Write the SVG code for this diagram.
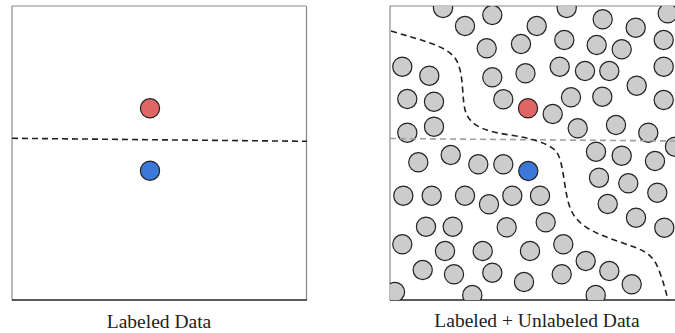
<svg xmlns="http://www.w3.org/2000/svg" width="675" height="333" viewBox="0 0 675 333">
  <style>
    .u { fill: #cccccc; stroke: #222; stroke-width: 1.2; }
    .red { fill: #e06666; stroke: #222; stroke-width: 1.2; }
    .blue { fill: #3c78d8; stroke: #222; stroke-width: 1.2; }
    .bd { stroke: #222; stroke-width: 1.6; stroke-dasharray: 6 4; fill: none; }
    .gd { stroke: #a0a0a0; stroke-width: 1.6; stroke-dasharray: 6 4; fill: none; }
    .lt { stroke: #888; stroke-width: 1.2; }
    .dk { stroke: #222; stroke-width: 1.3; }
    .lbl { font-family: "Liberation Serif", "Times New Roman", serif; font-size: 19.5px; fill: #222; text-anchor: middle; }
  </style>
  <defs>
    <clipPath id="rclip"><rect x="390" y="6" width="290" height="294"/></clipPath>
  </defs>
  <rect width="675" height="333" fill="#fff"/>

  <g id="left-panel">
    <line class="lt" x1="12" y1="6" x2="306" y2="6"/>
    <line class="lt" x1="12" y1="6" x2="12" y2="300"/>
    <line class="lt" x1="306.5" y1="6" x2="306.5" y2="300"/>
    <line class="dk" x1="12" y1="300" x2="307" y2="300"/>
  </g>
  <g id="left-connectors">
    <line class="bd" x1="12" y1="138.3" x2="307" y2="141.3"/>
  </g>
  <g id="left-red"><circle class="red" cx="150" cy="108.3" r="9.6"/></g>
  <g id="left-blue"><circle class="blue" cx="150" cy="170.7" r="9.6"/></g>
  <text class="lbl" x="159" y="328">Labeled Data</text>

  <g id="right-panel">
    <line class="lt" x1="390" y1="6" x2="675" y2="6"/>
    <line class="lt" x1="390" y1="6" x2="390" y2="300"/>
    <line class="dk" x1="390" y1="300" x2="675" y2="300"/>
  </g>
  <g id="right-unlabeled" clip-path="url(#rclip)">
    <circle class="u" cx="443" cy="8" r="9.6"/>
    <circle class="u" cx="492.3" cy="15" r="9.6"/>
    <circle class="u" cx="465" cy="26" r="9.6"/>
    <circle class="u" cx="486.7" cy="48.3" r="9.6"/>
    <circle class="u" cx="521" cy="44" r="9.6"/>
    <circle class="u" cx="402.3" cy="66.7" r="9.6"/>
    <circle class="u" cx="429.3" cy="75.7" r="9.6"/>
    <circle class="u" cx="492.3" cy="77.3" r="9.6"/>
    <circle class="u" cx="525.5" cy="73.3" r="9.6"/>
    <circle class="u" cx="407.3" cy="99" r="9.6"/>
    <circle class="u" cx="434" cy="101.7" r="9.6"/>
    <circle class="u" cx="503.3" cy="99.3" r="9.6"/>
    <circle class="u" cx="407.3" cy="132.7" r="9.6"/>
    <circle class="u" cx="434" cy="126.7" r="9.6"/>
    <circle class="u" cx="566.7" cy="8" r="9.6"/>
    <circle class="u" cx="602.7" cy="19.3" r="9.6"/>
    <circle class="u" cx="536.7" cy="26" r="9.6"/>
    <circle class="u" cx="667.7" cy="13.3" r="9.6"/>
    <circle class="u" cx="635.7" cy="27.7" r="9.6"/>
    <circle class="u" cx="564.3" cy="40" r="9.6"/>
    <circle class="u" cx="596.7" cy="45" r="9.6"/>
    <circle class="u" cx="621.7" cy="49.3" r="9.6"/>
    <circle class="u" cx="663.7" cy="40" r="9.6"/>
    <circle class="u" cx="559.7" cy="66.7" r="9.6"/>
    <circle class="u" cx="585" cy="71" r="9.6"/>
    <circle class="u" cx="609.3" cy="71" r="9.6"/>
    <circle class="u" cx="663.7" cy="66.7" r="9.6"/>
    <circle class="u" cx="636.7" cy="85.7" r="9.6"/>
    <circle class="u" cx="571" cy="97.3" r="9.6"/>
    <circle class="u" cx="602.3" cy="96.7" r="9.6"/>
    <circle class="u" cx="663.7" cy="100" r="9.6"/>
    <circle class="u" cx="552.7" cy="114" r="9.6"/>
    <circle class="u" cx="577.7" cy="128.3" r="9.6"/>
    <circle class="u" cx="616" cy="125" r="9.6"/>
    <circle class="u" cx="648.3" cy="132.7" r="9.6"/>
    <circle class="u" cx="596" cy="151.7" r="9.6"/>
    <circle class="u" cx="621.7" cy="155.7" r="9.6"/>
    <circle class="u" cx="675" cy="146.7" r="9.6"/>
    <circle class="u" cx="655" cy="161" r="9.6"/>
    <circle class="u" cx="418.3" cy="162.3" r="9.6"/>
    <circle class="u" cx="450.7" cy="155" r="9.6"/>
    <circle class="u" cx="478.3" cy="164.3" r="9.6"/>
    <circle class="u" cx="503.3" cy="164.3" r="9.6"/>
    <circle class="u" cx="403.3" cy="195.7" r="9.6"/>
    <circle class="u" cx="431.7" cy="195.7" r="9.6"/>
    <circle class="u" cx="465" cy="195.7" r="9.6"/>
    <circle class="u" cx="489" cy="204.3" r="9.6"/>
    <circle class="u" cx="512.3" cy="195.7" r="9.6"/>
    <circle class="u" cx="426" cy="226.7" r="9.6"/>
    <circle class="u" cx="452.7" cy="226.7" r="9.6"/>
    <circle class="u" cx="506.7" cy="227.3" r="9.6"/>
    <circle class="u" cx="402.3" cy="244.3" r="9.6"/>
    <circle class="u" cx="445" cy="251" r="9.6"/>
    <circle class="u" cx="482.7" cy="251" r="9.6"/>
    <circle class="u" cx="530" cy="251" r="9.6"/>
    <circle class="u" cx="422.7" cy="270" r="9.6"/>
    <circle class="u" cx="454" cy="274.3" r="9.6"/>
    <circle class="u" cx="492.3" cy="272.7" r="9.6"/>
    <circle class="u" cx="524" cy="282" r="9.6"/>
    <circle class="u" cx="395" cy="292" r="9.6"/>
    <circle class="u" cx="472.3" cy="295" r="9.6"/>
    <circle class="u" cx="540" cy="195.7" r="9.6"/>
    <circle class="u" cx="599" cy="177.7" r="9.6"/>
    <circle class="u" cx="628.3" cy="183.3" r="9.6"/>
    <circle class="u" cx="657.3" cy="192.7" r="9.6"/>
    <circle class="u" cx="607.7" cy="204" r="9.6"/>
    <circle class="u" cx="636" cy="217.7" r="9.6"/>
    <circle class="u" cx="664.3" cy="227.7" r="9.6"/>
    <circle class="u" cx="545.7" cy="222.3" r="9.6"/>
    <circle class="u" cx="563.3" cy="244.3" r="9.6"/>
    <circle class="u" cx="585.7" cy="261" r="9.6"/>
    <circle class="u" cx="609.3" cy="271" r="9.6"/>
    <circle class="u" cx="631.7" cy="284.3" r="9.6"/>
    <circle class="u" cx="561.7" cy="274.3" r="9.6"/>
    <circle class="u" cx="595.7" cy="295" r="9.6"/>
  </g>
  <g id="right-connectors" clip-path="url(#rclip)">
    <line class="gd" x1="390" y1="138.5" x2="675" y2="141"/>
    <path class="bd" d="M391,31 C420,40 445,45 455,58 C465,72 461,100 466,113 C472,128 490,132 510,135 C530,138 545,142 555,150 C565,160 563,195 572,212 C580,228 600,235 620,242 C640,249 652,252 658,268 C663,280 666,292 668,300"/>
  </g>
  <g id="right-red"><circle class="red" cx="528" cy="108.3" r="9.6"/></g>
  <g id="right-blue"><circle class="blue" cx="528.3" cy="171" r="9.6"/></g>
  <text class="lbl" x="537" y="327">Labeled + Unlabeled Data</text>
</svg>
